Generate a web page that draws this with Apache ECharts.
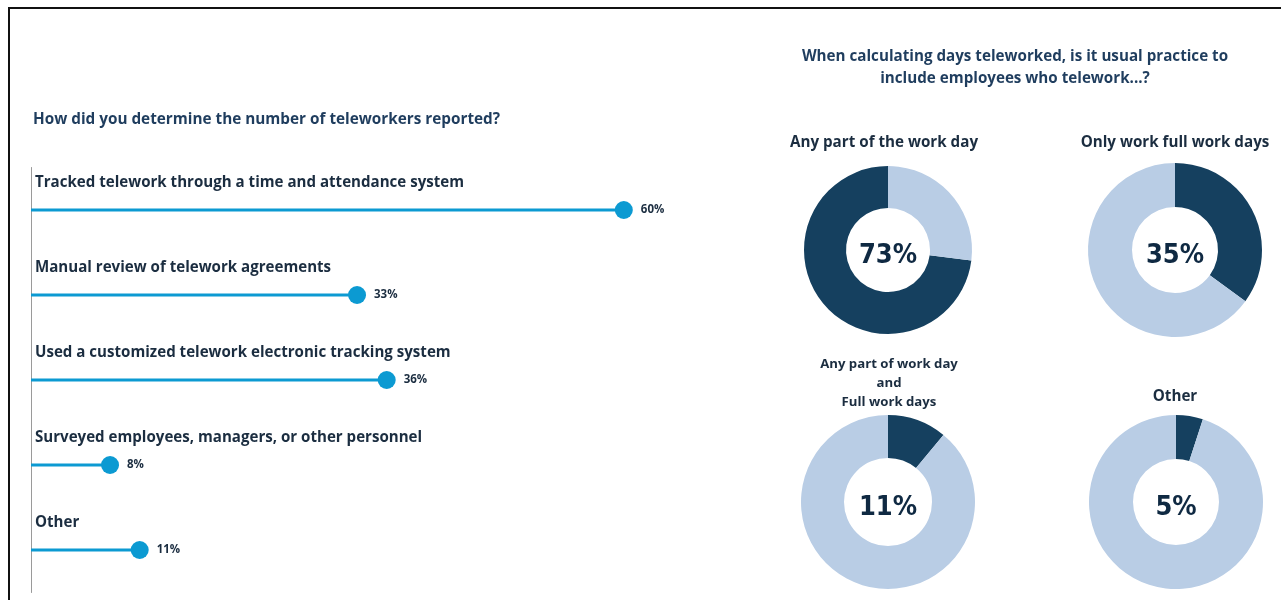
<!DOCTYPE html>
<html>
<head>
<meta charset="utf-8">
<script src="https://cdn.jsdelivr.net/npm/echarts@6/dist/echarts.min.js"></script>
<style>
  html, body { margin: 0; padding: 0; background: #ffffff; }
  #chart { width: 1281px; height: 600px; }
</style>
</head>
<body>
<div id="chart"></div>
<script>
// Methods used to count teleworkers (share of respondents, %)
const methodNames = [
  'Tracked telework through a time and attendance system',
  'Manual review of telework agreements',
  'Used a customized telework electronic tracking system',
  'Surveyed employees, managers, or other personnel',
  'Other'
];
const methodValues = [60, 33, 36, 8, 11];

// Practices for counting days teleworked (share answering yes, %)
const practiceNames = [
  'Any part of the work day',
  'Only work full work days',
  'Any part of work day\nand\nFull work days',
  'Other'
];
const practiceValues = [73, 35, 11, 5];

const leftTitle = 'How did you determine the number of teleworkers reported?';
const rightTitle = 'When calculating days teleworked, is it usual practice to\ninclude employees who telework...?';

const FONT = '"Open Sans", Lato, sans-serif';
const NAVY = '#1f3d5e';
const INK = '#1b2d40';
const DARK = '#15405f';
const LIGHT = '#b9cde5';
const BLUE = '#0c9ad2';

// layout of the four donuts (2 x 2)
const donutCenters = [[888, 250], [1175, 250], [888, 502], [1176, 502]];
const donutInner = [42, 43, 44, 43];
const donutOuter = [84, 87, 87, 87];
const donutTitlePos = [[884, 133], [1175, 133], [889, 355], [1175, 387]];

const chart = echarts.init(document.getElementById('chart'));

const titles = [
  { text: leftTitle, left: 33, top: 112, padding: 0,
    textStyle: { fontFamily: FONT, fontSize: 15.3, fontWeight: 'bold', color: NAVY } },
  { text: rightTitle, left: 1015, top: 46, padding: 0, textAlign: 'center',
    textStyle: { fontFamily: FONT, fontSize: 15.2, fontWeight: 'bold', color: NAVY, lineHeight: 22, align: 'center' } }
];
practiceNames.forEach((name, i) => {
  const small = name.indexOf('\n') >= 0;
  titles.push({
    text: name, left: donutTitlePos[i][0], top: donutTitlePos[i][1], padding: 0, textAlign: 'center',
    textStyle: { fontFamily: FONT, fontSize: small ? 13.2 : 15.2, fontWeight: 'bold', color: INK,
                 lineHeight: 19, align: 'center' }
  });
});

const pieSeries = practiceValues.map((v, i) => ({
  type: 'pie',
  center: donutCenters[i],
  radius: [donutInner[i], donutOuter[i]],
  startAngle: 90,
  clockwise: i !== 0,
  silent: true,
  labelLine: { show: false },
  data: [
    { value: v, name: 'yes', itemStyle: { color: DARK },
      label: { show: true, position: 'center', formatter: '{c}%', offset: [0, 6],
               fontFamily: '"DejaVu Sans Condensed", "DejaVu Sans", sans-serif',
               fontSize: 27, fontWeight: 'bold', color: '#0f2942' } },
    { value: 100 - v, name: 'rest', itemStyle: { color: LIGHT }, label: { show: false } }
  ]
}));

chart.setOption({
  animation: false,
  title: titles,
  grid: { left: 31, top: 167.5, width: 691.6, height: 425 },
  xAxis: { type: 'value', min: 0, max: 70, show: false },
  yAxis: {
    type: 'category', inverse: true, data: methodNames,
    axisLine: { show: true, lineStyle: { color: '#9a9a9a', width: 1 } },
    axisTick: { show: false },
    axisLabel: { show: false }
  },
  graphic: [{
    type: 'polyline',
    shape: { points: [[9, 600], [9, 8], [1281, 8]] },
    style: { stroke: '#111111', lineWidth: 2, fill: null },
    silent: true
  }],
  series: [
    {
      type: 'bar',
      data: methodValues,
      barWidth: 3,
      itemStyle: { color: BLUE },
      silent: true,
      label: {
        show: true,
        position: [4, -26],
        verticalAlign: 'middle',
        formatter: p => p.name,
        fontFamily: FONT, fontSize: 15.1, fontWeight: 'bold', color: INK
      }
    },
    {
      type: 'scatter',
      data: methodValues,
      symbol: 'circle',
      symbolSize: 18,
      itemStyle: { color: BLUE, opacity: 1 },
      silent: true,
      label: {
        show: true, position: 'right', distance: 8,
        formatter: '{c}%',
        fontFamily: FONT, fontSize: 11.5, fontWeight: 'bold', color: INK
      }
    }
  ].concat(pieSeries)
});
</script>
</body>
</html>
